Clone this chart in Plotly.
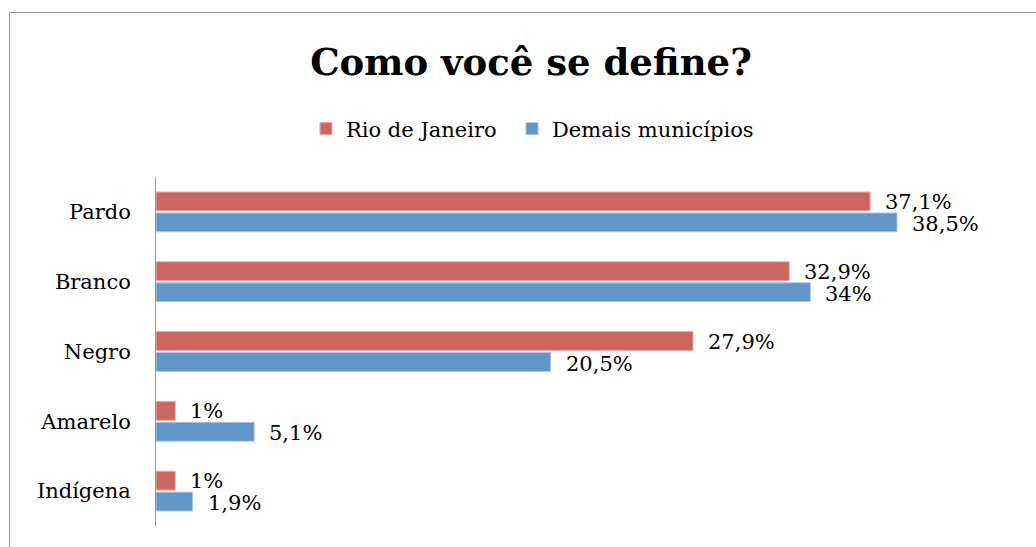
import plotly.graph_objects as go

categories = ["Pardo", "Branco", "Negro", "Amarelo", "Indígena"]
rio_values = [37.1, 32.9, 27.9, 1.0, 1.0]
demais_values = [38.5, 34.0, 20.5, 5.1, 1.9]
rio_labels = ["37,1%", "32,9%", "27,9%", "1%", "1%"]
demais_labels = ["38,5%", "34%", "20,5%", "5,1%", "1,9%"]
series_names = ["Rio de Janeiro", "Demais municípios"]

RED = "#CD6661"
BLUE = "#6196C9"
FONT = "DejaVu Serif"

W, H = 1036, 547
L, R, T, B = 156, 1000, 177, 526
x_max = 43.85

fig = go.Figure()
fig.add_trace(go.Bar(
    y=categories, x=rio_values, name=series_names[0], orientation="h",
    marker=dict(color=RED, line=dict(color="#E8A9A6", width=1)),
    legend="legend",
))
fig.add_trace(go.Bar(
    y=categories, x=demais_values, name=series_names[1], orientation="h",
    marker=dict(color=BLUE, line=dict(color="#A9C6E6", width=1)),
    legend="legend2",
))

label_font = dict(family=FONT, size=21, color="#000")
annotations = []
for cat, v, lab in zip(categories, rio_values, rio_labels):
    annotations.append(dict(x=v, y=cat, text=lab, showarrow=False, xanchor="left",
                            xshift=13, yshift=10, font=label_font))
for cat, v, lab in zip(categories, demais_values, demais_labels):
    annotations.append(dict(x=v, y=cat, text=lab, showarrow=False, xanchor="left",
                            xshift=13, yshift=-12, font=label_font))

pw, ph = R - L, B - T
def px(xp):
    return (xp - L) / pw
def py(yp):
    return (B - yp) / ph

legend_style = dict(orientation="h", xanchor="left", y=1 - 129 / H, yanchor="middle",
                    yref="container", xref="container",
                    font=dict(family=FONT, size=21, color="#000"),
                    itemwidth=30, itemclick=False, bgcolor="rgba(0,0,0,0)")

fig.update_layout(
    width=W, height=H,
    margin=dict(l=L, r=W - R, t=T, b=H - B, pad=0),
    paper_bgcolor="white", plot_bgcolor="white",
    barmode="group", bargap=0.4, bargroupgap=0.1,
    title=dict(text="<b>Como você se define?</b>", x=531 / W, xanchor="center",
               xref="container", y=1 - 62 / H, yanchor="middle",
               font=dict(family=FONT, size=37, color="#000")),
    legend=dict(x=306 / W, **legend_style),
    legend2=dict(x=512 / W, **legend_style),
    xaxis=dict(range=[0, x_max], showgrid=False, zeroline=False, showticklabels=False,
               showline=False, ticks=""),
    yaxis=dict(autorange="reversed", showgrid=False, zeroline=False, showline=True,
               linecolor="#9A9A9A", linewidth=1, ticks="",
               tickfont=dict(family=FONT, size=21, color="#000"), ticklabelstandoff=20),
    annotations=annotations,
    shapes=[dict(type="rect", xref="paper", yref="paper",
                 x0=px(9.5), x1=px(W + 5), y0=py(H + 5), y1=py(12.5),
                 line=dict(color="#9A9A9A", width=1), fillcolor="rgba(0,0,0,0)", layer="below")],
    showlegend=True,
)

fig.write_html("out.html")
